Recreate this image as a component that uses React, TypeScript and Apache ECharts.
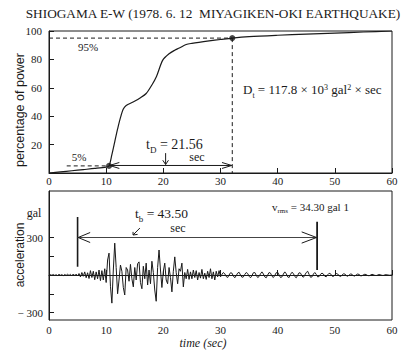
import React, { useEffect, useRef } from "react";
import * as echarts from "echarts";

const titleText = "SHIOGAMA E-W (1978. 6. 12  MIYAGIKEN-OKI EARTHQUAKE)";
const timeTicks = [0, 10, 20, 30, 40, 50, 60];
const accelTickValues = [-300, -150, 0, 150, 300];
const accelLabelValues = [-300, 300];

// Husid plot (cumulative power, %)
const husidTime = [0, 2, 4, 6, 8, 10, 10.5, 11, 11.5, 12, 12.5, 13, 13.5, 14.7, 16, 17, 18, 18.8, 19.9, 21, 22, 22.8, 24, 25, 28, 30, 32.06, 35, 40, 45, 50, 55, 60];
const husidPercent = [0, 0.8, 1.6, 2.4, 3.2, 4.2, 5, 13, 22, 31, 39, 45, 47.5, 50, 53, 56, 62, 68, 79.5, 84, 86.5, 88, 90.5, 91.3, 93, 94, 95, 96, 97, 97.8, 98.5, 99.3, 100];

// Key Husid values
const level5 = 5;
const level95 = 95;
const t5 = 10.5;
const t95 = 32.06;

// Bracketed duration on the accelerogram
const bracketStart = 5.0;
const bracketEnd = 46.9;
const bracketLevel = 300;

// Accelerogram (gal), sampled every 0.25 s from 0 to 60 s
const sampleStep = 0.25;
const accelA = [0, 3, -2, 4, -3, 2, -4, 5, -2, 3, -5, 4, -3, 6, -4, 5, -6, 8, -5, 7];
const accelB = [-8, 12, -15, 20, -10, 25, -22, 18, -28, 35, -20, 30, -38, 25, -30, 40, -45, 35, -40, 50];
const accelC = [-60, 120, 175, -90, -225, 40, 255, 60, -150, -40, 80, 30, -100, -160, 60, 40, -50, 85, -30, -95];
const accelD = [60, -40, 90, 105, -60, -110, 70, -30, 95, -80, 40, -70, 110, 20, -120, -210, 60, 200, 40, -100];
const accelE = [30, 95, -40, -70, 60, -20, -135, 30, 145, 20, -70, 50, 30, 95, -95, 20, -30, 45, -35, 25];
const accelF = [-30, 40, -20, 35, -40, 20, -25, 45, -30, 15, -35, 30, -20, 50, -30, 25, -40, 30, -15, 35];
const accelG = [-15, 5, 20, 10, -12, -20, 0, 18, 15, -8, -22, -5, 15, 22, 0, -18, -15, 5, 20, 12];
const accelH = [-10, -22, -5, 18, 20, -2, -20, -12, 10, 25, 8, -15, -22, 0, 20, 15, -10, -20, -3, 18];
const accelI = [22, 0, -20, -15, 8, 25, 10, -15, -20, 5, 22, 12, -12, -22, -2, 18, 15, -8, -18, 0];
const accelJ = [20, 30, 5, -18, -15, 8, 20, 5, -15, -12, 6, 15, 8, -10, -14, 2, 14, 10, -8, -12];
const accelK = [0, 12, 8, -6, -12, -2, 10, 8, -5, -10, 0, 8, 6, -6, -8, 2, 8, 4, -6, -6];
const accelL = [2, 6, 3, -4, -6, 0, 5, 3, -3, -4, 0, 4, 2, -3, -3, 1, 3, 1, -2, -1, 0];

const INK = "#1a1a1a";
const SERIF = "'Liberation Serif', 'DejaVu Serif', serif";
const SANS = "'Liberation Sans', Arial, sans-serif";

function seg(data: number[][], axis: number, width = 1, type: any = "solid", color = INK) {
  return {
    type: "line",
    xAxisIndex: axis,
    yAxisIndex: axis,
    data,
    showSymbol: false,
    symbol: "none",
    silent: true,
    lineStyle: { color, width, type },
    z: 3,
  };
}

// Builds a text run with sub/superscripts: parts = [text, fontSize, baselineShift(+down)]
function mathText(x: number, baseline: number, parts: [string, number, number][]) {
  const ctx = document.createElement("canvas").getContext("2d")!;
  let cx = x;
  const children: any[] = [];
  for (const [txt, size, shift] of parts) {
    const font = `${size}px ${SERIF}`;
    ctx.font = font;
    const w = ctx.measureText(txt).width;
    children.push({
      type: "text",
      x: cx,
      y: baseline + shift,
      style: { text: txt, font, fill: INK, align: "left", verticalAlign: "bottom" },
    });
    cx += w;
  }
  return { type: "group", children };
}

export default function App() {
  const ref = useRef<HTMLDivElement>(null);
  useEffect(() => {
    document.body.style.margin = "0";
    const chart = echarts.init(ref.current!, null, { renderer: "svg" });
    const accel = [...accelA, ...accelB, ...accelC, ...accelD, ...accelE, ...accelF, ...accelG, ...accelH, ...accelI, ...accelJ, ...accelK, ...accelL];
    const accelData = accel.map((v, i) => [i * sampleStep, v]);
    const husidData = husidTime.map((t, i) => [t, husidPercent[i]]);

    const xAxisBase = (idx: number, margin: number) => ({
      type: "value",
      gridIndex: idx,
      min: timeTicks[0],
      max: timeTicks[timeTicks.length - 1],
      interval: 10,
      axisLine: { show: true, lineStyle: { color: INK, width: 1 } },
      axisTick: { show: true, inside: true, length: 5, lineStyle: { color: INK } },
      axisLabel: { color: INK, fontFamily: SERIF, fontSize: 11, margin },
      splitLine: { show: false },
    });

    const option: any = {
      animation: false,
      backgroundColor: "#ffffff",
      grid: [
        { left: 49, top: 31, width: 343, height: 142, show: true, borderColor: INK, borderWidth: 1, containLabel: false },
        { left: 49, top: 191, width: 343, height: 129, show: true, borderColor: INK, borderWidth: 1, containLabel: false },
      ],
      xAxis: [xAxisBase(0, 2), xAxisBase(1, 4)],
      yAxis: [
        {
          type: "value",
          gridIndex: 0,
          min: 0,
          max: 100,
          interval: 20,
          axisLine: { show: true, lineStyle: { color: INK } },
          axisTick: { show: true, inside: true, length: 5, lineStyle: { color: INK } },
          axisLabel: {
            color: INK, fontFamily: SERIF, fontSize: 11, margin: 7,
            formatter: (v: number) => (v === 0 ? "" : String(v)),
          },
          splitLine: { show: false },
        },
        {
          type: "value",
          gridIndex: 1,
          min: -360,
          max: 672,
          axisLine: { show: true, lineStyle: { color: INK } },
          axisTick: { show: true, inside: true, length: 5, customValues: accelTickValues, lineStyle: { color: INK } },
          axisLabel: {
            color: INK, fontFamily: SERIF, fontSize: 11, margin: 6,
            customValues: accelLabelValues,
            formatter: (v: number) => (v < 0 ? "− " + Math.abs(v) : String(v)),
          },
          splitLine: { show: false },
        },
      ],
      series: [
        { ...seg(husidData, 0, 1.2), smooth: 0.3, z: 4 },
        seg([[0, level95], [t95, level95]], 0, 1, [4, 3]),
        seg([[3.1, level5], [t5, level5]], 0, 1, [4, 3]),
        seg([[t95, level95], [t95, 0]], 0, 1, [4, 3]),
        seg([[t5, level5 + 0.3], [t95 - 0.1, level5 + 0.3]], 0, 1),
        seg([[t5 + 1.8, level5 + 2.4], [t5 + 0.1, level5 + 0.3], [t5 + 1.8, level5 - 1.8]], 0, 1),
        seg([[t95 - 1.8, level5 + 2.4], [t95 - 0.1, level5 + 0.3], [t95 - 1.8, level5 - 1.8]], 0, 1),
        seg([[20.4, 14], [20.4, 6]], 0, 1),
        seg([[19.9, 9], [20.4, 6], [20.9, 9]], 0, 1),
        {
          type: "scatter",
          xAxisIndex: 0,
          yAxisIndex: 0,
          data: [[t5, level5], [t95, level95]],
          symbol: "circle",
          symbolSize: 6,
          itemStyle: { color: INK },
          silent: true,
          z: 6,
        },
        { ...seg(accelData, 1, 1), z: 4 },
        seg([[bracketStart, 464], [bracketStart, 66]], 1, 1.6),
        seg([[bracketEnd, 426], [bracketEnd, 40]], 1, 1.8),
        seg([[bracketStart, bracketLevel], [bracketEnd, bracketLevel]], 1, 1, "solid", "#444"),
        seg([[bracketStart + 2.2, bracketLevel + 40], [bracketStart + 0.1, bracketLevel], [bracketStart + 2.2, bracketLevel - 40]], 1, 1),
        seg([[bracketEnd - 2.7, bracketLevel + 45], [bracketEnd - 0.1, bracketLevel], [bracketEnd - 2.7, bracketLevel - 45]], 1, 1),
        seg([[15.9, 376], [14.7, 320]], 1, 1),
        seg([[14.7, 345], [14.7, 320], [15.5, 325]], 1, 1),
      ],
      graphic: [
        { type: "text", x: 213, y: 13, style: { text: titleText, font: `13.3px ${SERIF}`, fill: INK, align: "center", verticalAlign: "middle" } },
        { type: "text", x: 20, y: 110, rotation: Math.PI / 2, style: { text: "percentage of power", font: `12.5px ${SANS}`, fill: INK, align: "center", verticalAlign: "middle" } },
        { type: "text", x: 20, y: 255, rotation: Math.PI / 2, style: { text: "acceleration", font: `12px ${SANS}`, fill: INK, align: "center", verticalAlign: "middle" } },
        { type: "text", x: 88, y: 47, style: { text: "95%", font: `11px ${SERIF}`, fill: INK, align: "center", verticalAlign: "middle" } },
        { type: "text", x: 79, y: 157, style: { text: "5%", font: `11px ${SERIF}`, fill: INK, align: "center", verticalAlign: "middle" } },
        mathText(146, 151, [["t", 14, 0], ["D", 9, 3], [" = 21.56", 14, 0]]),
        { type: "text", x: 197, y: 157, style: { text: "sec", font: `12px ${SERIF}`, fill: INK, align: "center", verticalAlign: "middle" } },
        mathText(243, 96, [["D", 13, 0], ["t", 8, 3], [" = 117.8 × 10", 13, 0], ["3", 8, -5], [" gal", 13, 0], ["2", 8, -5], [" × sec", 13, 0]]),
        { type: "text", x: 34, y: 213, style: { text: "gal", font: `12px ${SERIF}`, fill: INK, align: "center", verticalAlign: "middle" } },
        mathText(135, 220, [["t", 13.5, 0], ["b", 9, 3], [" = 43.50", 13.5, 0]]),
        { type: "text", x: 178, y: 228, style: { text: "sec", font: `12px ${SERIF}`, fill: INK, align: "center", verticalAlign: "middle" } },
        mathText(272, 212, [["v", 11, 0], ["rms", 7, 2.5], [" = 34.30 gal 1", 11, 0]]),
        { type: "text", x: 203, y: 343, style: { text: "time (sec)", font: `italic 12px ${SERIF}`, fill: INK, align: "center", verticalAlign: "middle" } },
      ],
    };
    chart.setOption(option);
    return () => chart.dispose();
  }, []);
  return <div ref={ref} style={{ width: 409, height: 352 }} />;
}
